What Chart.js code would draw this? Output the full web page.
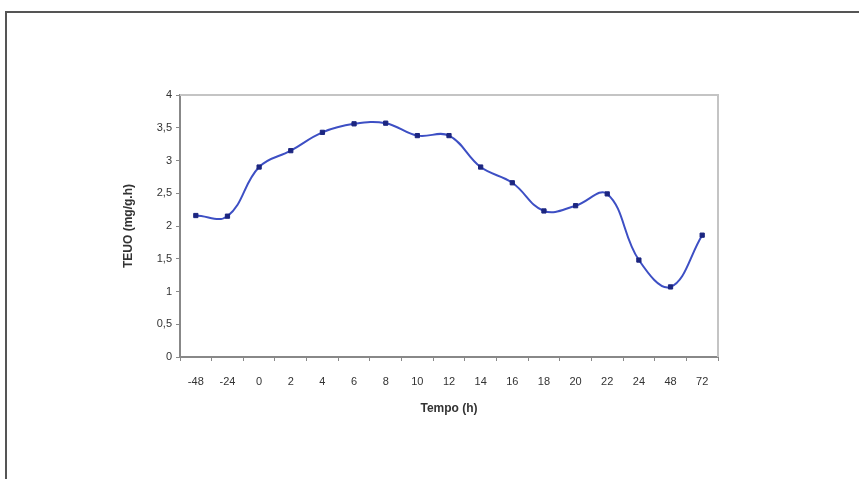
<!DOCTYPE html>
<html>
<head>
<meta charset="utf-8">
<script src="https://cdn.jsdelivr.net/npm/chart.js@4/dist/chart.umd.min.js"></script>
<style>
  html, body { margin: 0; padding: 0; background: #fff; }
  #wrap { position: relative; width: 859px; height: 479px; overflow: hidden; }
  #frame { position: absolute; left: 5px; top: 11px; width: 900px; height: 500px;
           border-left: 2px solid #555; border-top: 2px solid #555; }
  canvas { position: absolute; left: 0; top: 0; }
</style>
</head>
<body>
<div id="wrap">
  <div id="frame"></div>
  <canvas id="chart" width="859" height="479"></canvas>
</div>
<script>
// time points (h) and TEUO values (mg/g.h)
const labels = ["-48", "-24", "0", "2", "4", "6", "8", "10", "12", "14", "16", "18", "20", "22", "24", "48", "72"];
const teuo = [2.16, 2.15, 2.9, 3.15, 3.43, 3.56, 3.57, 3.38, 3.38, 2.9, 2.66, 2.23, 2.31, 2.49, 1.48, 1.07, 1.86];

const tickFont = { family: "Liberation Sans, Arial, sans-serif", size: 11 };
const titleFont = { family: "Liberation Sans, Arial, sans-serif", size: 12, weight: "bold" };

// light grey top/right edge of the plot area, like the original
const plotFrame = {
    id: "plotFrame",
    afterDraw(chart) {
        const { ctx, chartArea: a } = chart;
        ctx.save();
        ctx.strokeStyle = "#c4c4c4";
        ctx.lineWidth = 2;
        ctx.beginPath();
        ctx.moveTo(a.left, a.top);
        ctx.lineTo(a.right, a.top);
        ctx.lineTo(a.right, a.bottom);
        ctx.stroke();
        ctx.restore();
    }
};

new Chart(document.getElementById("chart").getContext("2d"), {
    type: "line",
    data: {
        labels: labels,
        datasets: [{
            data: teuo,
            borderColor: "#3d4fc4",
            borderWidth: 2,
            tension: 0.4,
            pointStyle: "rect",
            pointRadius: 3,
            pointBackgroundColor: "#1c2680",
            pointBorderColor: "#1c2680",
            pointBorderWidth: 1,
        }],
    },
    options: {
        responsive: false,
        animation: false,
        plugins: { legend: { display: false }, tooltip: { enabled: false } },
        layout: { padding: { left: 118, right: 141, top: 95, bottom: 57 } },
        scales: {
            x: {
                offset: true,
                grid: { offset: true, drawOnChartArea: false, tickLength: 4, color: "#888" },
                border: { color: "#888", width: 2 },
                ticks: { color: "#333", font: tickFont, maxRotation: 0, autoSkip: false, padding: 14 },
                title: { display: true, text: "Tempo (h)", color: "#333", font: titleFont, padding: { top: 4, bottom: 6 } },
                afterFit(scale) { scale.height = 65; },
            },
            y: {
                min: 0,
                max: 4,
                grid: { drawOnChartArea: false, tickLength: 4, color: "#888" },
                border: { color: "#888", width: 2 },
                ticks: {
                    stepSize: 0.5,
                    color: "#333",
                    font: tickFont,
                    padding: 4,
                    callback: (v) => String(v).replace(".", ","),
                },
                title: { display: true, text: "TEUO (mg/g.h)", color: "#333", font: titleFont, padding: { top: 3, bottom: 0 } },
                afterFit(scale) { scale.width = 62; },
            },
        },
    },
    plugins: [plotFrame],
});
</script>
</body>
</html>
